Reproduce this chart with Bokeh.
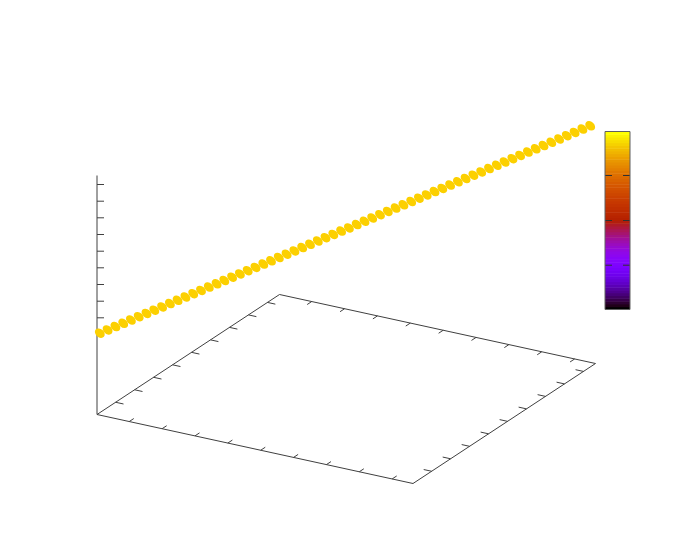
import math
from bokeh.plotting import figure
from bokeh.models import Range1d
from bokeh.embed import file_html
from bokeh.resources import INLINE

# Series (page pixel coordinates of the projected scene)
point_x = [99.3,107.1,114.9,122.7,130.4,138.2,146.0,153.8,161.6,169.4,177.1,184.9,192.7,200.5,208.3,216.1,
           223.8,231.6,239.4,247.2,255.0,262.8,270.5,278.3,286.1,293.9,301.7,309.5,317.3,325.0,332.8,340.6,
           348.4,356.2,364.0,371.7,379.5,387.3,395.1,402.9,410.7,418.4,426.2,434.0,441.8,449.6,457.4,465.1,
           472.9,480.7,488.5,496.3,504.1,511.9,519.6,527.4,535.2,543.0,550.8,558.6,566.3,574.1,581.9,589.7]
point_y = [332.7,329.4,326.1,322.8,319.5,316.2,312.9,309.7,306.4,303.1,299.8,296.5,293.2,289.9,286.6,283.3,
           280.0,276.7,273.4,270.2,266.9,263.6,260.3,257.0,253.7,250.4,247.1,243.8,240.5,237.2,233.9,230.6,
           227.4,224.1,220.8,217.5,214.2,210.9,207.6,204.3,201.0,197.7,194.4,191.1,187.9,184.6,181.3,178.0,
           174.7,171.4,168.1,164.8,161.5,158.2,154.9,151.6,148.3,145.1,141.8,138.5,135.2,131.9,128.6,125.3]

corner_front_left = (96.5, 414.0)
corner_front_right = (412.5, 483.0)
corner_back_right = (595.0, 363.0)
corner_back_left = (279.0, 294.0)
z_top = 175.0
z_ticks = [184.0, 200.7, 217.3, 234.0, 250.7, 267.3, 284.0, 300.7, 317.3]
base_fractions = [0.102, 0.206, 0.310, 0.414, 0.518, 0.622, 0.726, 0.830, 0.934]
cb_left, cb_right, cb_top, cb_bottom = 604.5, 629.5, 131.0, 309.0
cb_ticks = [175.0, 220.0, 264.7]
cb_levels = 64
POINT_COLOR = "#FCD000"
LINE_COLOR = "#404040"

p = figure(width=676, height=538, x_range=Range1d(0, 676), y_range=Range1d(538, 0),
           output_backend="svg", toolbar_location=None, min_border=0)
p.axis.visible = False
p.grid.visible = False
p.outline_line_color = None

# base frame and z axis
A, B, C, D = corner_front_left, corner_front_right, corner_back_right, corner_back_left
p.line([D[0], A[0], B[0], C[0], D[0]], [D[1], A[1], B[1], C[1], D[1]], line_color=LINE_COLOR, line_width=1)
p.line([A[0], A[0]], [A[1], z_top], line_color=LINE_COLOR, line_width=1)

def ticks(P, Q, R, S, scale=1 / 40):
    """ticks on edge P-Q, pointing in the direction R-S"""
    dx, dy = (S[0] - R[0]) * scale, (S[1] - R[1]) * scale
    xs0 = [P[0] + (Q[0] - P[0]) * f for f in base_fractions]
    ys0 = [P[1] + (Q[1] - P[1]) * f for f in base_fractions]
    p.segment(xs0, ys0, [x + dx for x in xs0], [y + dy for y in ys0], line_color=LINE_COLOR, line_width=1)

ticks(A, B, A, D)      # front x edge, towards the back
ticks(D, C, D, A)      # back x edge, towards the front
ticks(A, D, A, B)      # left y edge
ticks(B, C, B, A)      # right y edge
p.segment([A[0]] * len(z_ticks), z_ticks, [A[0] + 7] * len(z_ticks), z_ticks, line_color=LINE_COLOR, line_width=1)

# colour box: gnuplot default palette
def pal(t):
    r = math.sqrt(t); g = t ** 3; b = max(0.0, math.sin(2 * math.pi * t))
    return "#%02x%02x%02x" % (int(r * 255), int(g * 255), int(b * 255))
h = (cb_bottom - cb_top) / cb_levels
tops = [cb_bottom - (i + 1) * h for i in range(cb_levels)]
bots = [min(cb_bottom, cb_bottom - i * h + 0.5) for i in range(cb_levels)]
cols = [pal(i / (cb_levels - 1)) for i in range(cb_levels)]
p.quad(left=cb_left, right=cb_right, top=tops, bottom=bots, fill_color=cols, line_color=None)
p.segment([cb_left] * 3, cb_ticks, [cb_left + 7] * 3, cb_ticks, line_color="#303030", line_width=1)
p.segment([cb_right] * 3, cb_ticks, [cb_right - 7] * 3, cb_ticks, line_color="#303030", line_width=1)
p.line([cb_left, cb_right, cb_right, cb_left, cb_left], [cb_top, cb_top, cb_bottom, cb_bottom, cb_top],
       line_color="#606060", line_width=1)

# points
p.ellipse(point_x, point_y, width=11.0, height=8.2, angle=-0.72, fill_color=POINT_COLOR, line_color=None)

open("out.html", "w").write(file_html(p, INLINE))
